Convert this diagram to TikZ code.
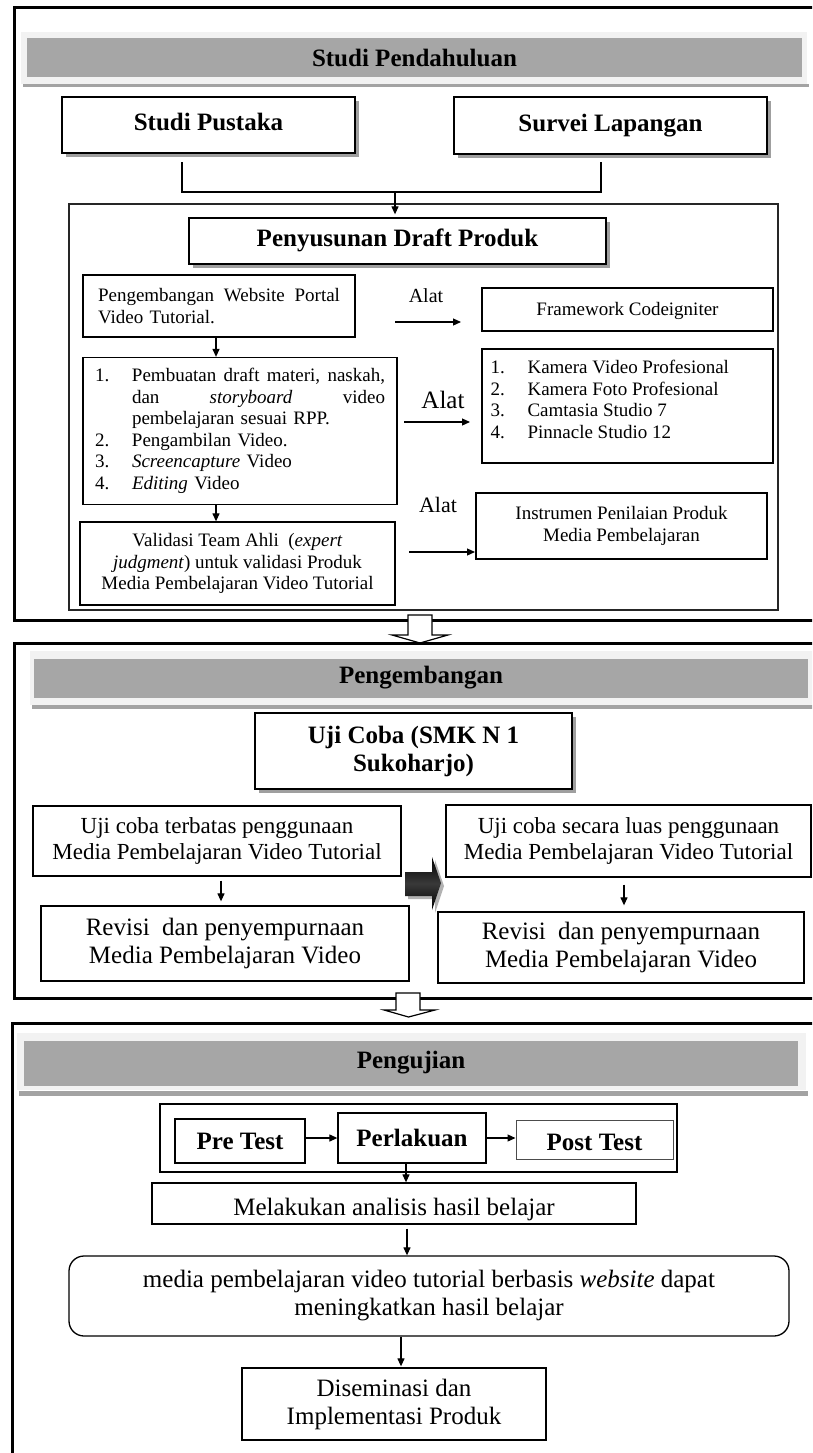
\documentclass[tikz,border=0pt]{standalone}
\usepackage{fontspec}
\setmainfont{Liberation Serif}
\usetikzlibrary{arrows.meta,shadows,calc}
\newcommand{\itemnum}[1]{\makebox[37pt][l]{#1}}
\tikzset{
  box/.style={draw, line width=1.3pt, fill=white, inner sep=0pt},
  sbox/.style={box, general shadow={fill=gray!75, shadow xshift=4pt, shadow yshift=-4pt}},
  outer/.style={draw, line width=3pt},
  arr/.style={-{Triangle[length=8pt,width=7pt]}, line width=1.2pt},
  fB/.style={font=\fontsize{25}{28}\selectfont\bfseries},
  fS/.style={font=\fontsize{19}{21.5}\selectfont},
  fM/.style={font=\fontsize{23}{26}\selectfont},
  fL/.style={font=\fontsize{25}{28}\selectfont},
  oneline/.style={text height=17.5pt, text depth=6pt},
  hdr/.style={fill=gray!70, inner sep=0pt, fB},
  rim/.style={fill=gray!10},
  strip/.style={fill=gray!72},
  hollow/.style={draw, line width=1.2pt, fill=white, line join=miter},
  bracket/.style={line width=1.2pt},
}
\begin{document}
\begin{tikzpicture}[x=1pt,y=-1pt]
\useasboundingbox (0,0) rectangle (812,1453);
\clip (0,0) rectangle (812,1453);
\fill[white] (0,0) rectangle (812,1453);

% ---------------- Section 1 ----------------
\draw[outer] (14,8) rectangle (830,620);
\fill[strip] (23,84) rectangle (809,87);
\fill[rim] (21,32) rectangle (807,84);
\node[hdr, minimum width=775pt, minimum height=39pt] (h1) at (414.5,58) {Studi Pendahuluan};

\node[sbox, fB, oneline, minimum width=293pt, minimum height=56pt] (pus) at (208.5,125) {Studi Pustaka};
\node[sbox, fB, oneline, minimum width=313pt, minimum height=57pt] (sur) at (610.5,125.5) {Survei Lapangan};

\node[draw, line width=1.2pt, black!85, minimum width=709pt, minimum height=406pt, inner sep=0pt] (cont) at (423.5,407) {};

\node[sbox, fB, oneline, minimum width=417pt, minimum height=46pt] (dra) at (397.5,241) {Penyusunan Draft Produk};

\coordinate (b1) at (182,162);
\coordinate (b2) at (182,192);
\coordinate (b3) at (601,192);
\coordinate (b4) at (601,162);
\coordinate (bm) at (395,192);
\draw[bracket] (b1) -- (b2) -- (b3) -- (b4);
\draw[arr, shorten >=3pt] (bm) -- (bm |- dra.north);

\node[box, fS, minimum width=272pt, minimum height=62pt, text width=242pt, align=left] (web) at (219,306)
  {\makebox[242pt][s]{Pengembangan\hfill Website\hfill Portal}\\Video Tutorial.};
\node[box, fS, oneline, minimum width=291pt, minimum height=43pt] (fra) at (627.5,309.5) {Framework Codeigniter};

\node[box, fS, minimum width=314pt, minimum height=147pt, text width=290pt, align=left] (list) at (240,431) {%
\itemnum{1.}\makebox[253pt][s]{Pembuatan\hfill draft\hfill materi,\hfill naskah,}\\
\itemnum{}\makebox[253pt][s]{dan\hfill\textit{storyboard}\hfill video}\\
\itemnum{}pembelajaran sesuai RPP.\\
\itemnum{2.}Pengambilan Video.\\
\itemnum{3.}\textit{Screencapture} Video\\
\itemnum{4.}\textit{Editing} Video};

\node[box, minimum width=291pt, minimum height=114pt] (kam) at (627.5,406) {};
\node[fS, anchor=north west, align=left, inner sep=0pt] (kamt) at ([xshift=9pt,yshift=-12pt]kam.north west)
  {\itemnum{1.}Kamera Video Profesional\\\itemnum{2.}Kamera Foto Profesional\\\itemnum{3.}Camtasia Studio 7\\\itemnum{4.}Pinnacle Studio 12};

\node[box, fS, align=center, minimum width=315pt, minimum height=83pt] (val) at (237.5,563.5)
  {Validasi Team Ahli~~(\textit{expert}\\\textit{judgment}) untuk validasi Produk\\Media Pembelajaran Video Tutorial};
\node[box, fS, align=center, minimum width=291pt, minimum height=66pt] (ins) at (621.5,526)
  {Instrumen Penilaian Produk\\Media Pembelajaran};

\node[font=\fontsize{20}{22}\selectfont, inner sep=0pt] (al1) at (426,296) {Alat};
\node[font=\fontsize{25}{28}\selectfont, inner sep=0pt] (al2) at (443,400) {Alat};
\node[font=\fontsize{22}{24}\selectfont, inner sep=0pt] (al3) at (438,505) {Alat};

\coordinate (a1s) at (395,322); \coordinate (a1e) at (461,322);
\coordinate (a2s) at (404,422); \coordinate (a2e) at (470,422);
\coordinate (a3s) at (409,552); \coordinate (a3e) at (475,552);
\draw[arr] (a1s) -- (a1e);
\draw[arr] (a2s) -- (a2e);
\draw[arr] (a3s) -- (a3e);

\draw[arr] ([xshift=-3pt]web.south) -- ([xshift=-3pt]web.south |- list.north);
\draw[arr] ([xshift=-24pt]list.south) -- ([xshift=-24pt]list.south |- val.north);

% hollow arrow 1
\draw[hollow] (408,615) -- (432,615) -- (432,635) -- (448,635) -- (420,643) -- (392,635) -- (408,635) -- cycle;

% ---------------- Section 2 ----------------
\draw[outer] (14,643) rectangle (830,998);
\fill[strip] (32,705) rectangle (830,709);
\fill[rim] (30,651) rectangle (830,705);
\node[hdr, minimum width=774pt, minimum height=39pt] (h2) at (421,678) {Pengembangan};

\node[sbox, fB, align=center, minimum width=317pt, minimum height=76pt] (uji) at (413.5,751) {Uji Coba (SMK N 1\\Sukoharjo)};

\node[box, fM, align=center, minimum width=368pt, minimum height=70pt] (ut) at (217,841)
  {Uji coba terbatas penggunaan\\Media Pembelajaran Video Tutorial};
\node[box, fM, align=center, minimum width=365pt, minimum height=72pt] (ul) at (628.5,841)
  {Uji coba secara luas penggunaan\\Media Pembelajaran Video Tutorial};
\node[box, fL, align=center, minimum width=368pt, minimum height=75pt] (rv1) at (225,943.5)
  {Revisi~~dan penyempurnaan\\Media Pembelajaran Video};
\node[box, fL, align=center, minimum width=366pt, minimum height=71pt] (rv2) at (621,947.5)
  {Revisi~~dan penyempurnaan\\Media Pembelajaran Video};

\draw[arr, shorten <=4pt, shorten >=4pt] ([xshift=4pt]ut.south) -- ([xshift=4pt]ut.south |- rv1.north);
\draw[arr, shorten <=7pt, shorten >=6pt] ([xshift=-4.5pt]ul.south) -- ([xshift=-4.5pt]ul.south |- rv2.north);

% dark 3D arrow
\fill[gray!60] (408,875) -- (435,875) -- (435,860) -- (444,886) -- (435,913) -- (435,899) -- (408,899) -- cycle;
\shade[top color=black, bottom color=black, middle color=gray!45!black]
  (405,872) -- (432,872) -- (432,857) -- (441,883) -- (432,910) -- (432,896) -- (405,896) -- cycle;

% hollow arrow 2
\draw[hollow] (396,993) -- (420,993) -- (420,1010) -- (435,1010) -- (408.5,1017) -- (384,1010) -- (396,1010) -- cycle;

% ---------------- Section 3 ----------------
\draw[outer] (12,1023) rectangle (830,1480);
\fill[strip] (19,1091) rectangle (808,1096);
\fill[rim] (17,1033) rectangle (806,1090);
\node[hdr, minimum width=774pt, minimum height=45pt] (h3) at (411,1063) {Pengujian};

\node[draw, line width=1.3pt, minimum width=517pt, minimum height=68pt, inner sep=0pt] (tc) at (418.5,1138) {};
\node[box, fB, minimum width=130pt, minimum height=44pt] (pre) at (240,1141) {Pre Test};
\node[box, fB, minimum width=148pt, minimum height=50pt] (per) at (412,1138) {Perlakuan};
\node[box, fB, draw=black!70, line width=1pt, minimum width=157pt, minimum height=39pt, text height=21pt, text depth=0pt] (post) at (594.5,1139.5) {Post Test};
\draw[arr] (pre.east |- per.west) -- (per.west);
\draw[arr] (per.east) -- (per.east -| post.west);

\node[box, fL, minimum width=484pt, minimum height=41pt, text height=23pt, text depth=0pt] (mel) at (394,1203.5) {Melakukan analisis hasil belajar};
\draw[arr] ([xshift=-6pt]per.south) -- ([xshift=-6pt]per.south |- mel.north);

\node[box, fL, align=center, rounded corners=15pt, minimum width=720pt, minimum height=80pt] (med) at (429,1296)
  {media pembelajaran video tutorial berbasis \textit{website} dapat\\meningkatkan hasil belajar};
\draw[arr, shorten <=4pt] ([xshift=13pt]mel.south) -- ([xshift=13pt]mel.south |- med.north);

\node[box, fL, align=center, minimum width=304pt, minimum height=72pt] (dis) at (394,1404)
  {Diseminasi dan\\Implementasi Produk};
\draw[arr, shorten >=1pt] ([xshift=-28pt]med.south) -- ([xshift=-28pt]med.south |- dis.north);
\end{tikzpicture}
\end{document}
